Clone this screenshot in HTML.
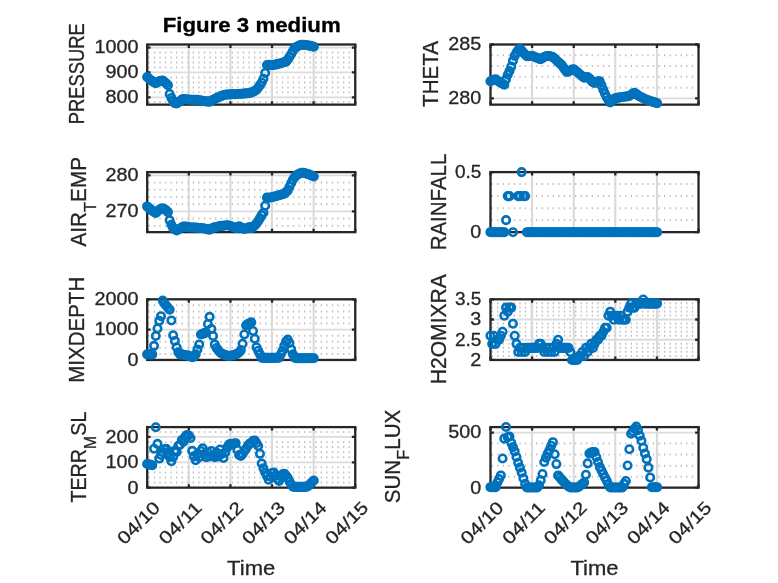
<!DOCTYPE html>
<html><head><meta charset="utf-8"><title>Figure 3 medium</title>
<style>html,body{margin:0;padding:0;background:#fff}svg{display:block}text{font-family:"Liberation Sans", "DejaVu Sans", sans-serif;fill:#262626;stroke:#262626;stroke-width:0.3px}</style></head><body>
<svg width="778" height="583" viewBox="0 0 778 583">
<rect width="778" height="583" fill="#fff"/>
<g>
<line x1="148.25" y1="102.31" x2="355.25" y2="102.31" stroke="#c0c0c0" stroke-width="2" stroke-dasharray="1.3 4.264"/>
<line x1="148.25" y1="92.37" x2="355.25" y2="92.37" stroke="#c0c0c0" stroke-width="2" stroke-dasharray="1.3 4.264"/>
<line x1="148.25" y1="87.39" x2="355.25" y2="87.39" stroke="#c0c0c0" stroke-width="2" stroke-dasharray="1.3 4.264"/>
<line x1="148.25" y1="82.42" x2="355.25" y2="82.42" stroke="#c0c0c0" stroke-width="2" stroke-dasharray="1.3 4.264"/>
<line x1="148.25" y1="77.44" x2="355.25" y2="77.44" stroke="#c0c0c0" stroke-width="2" stroke-dasharray="1.3 4.264"/>
<line x1="148.25" y1="67.50" x2="355.25" y2="67.50" stroke="#c0c0c0" stroke-width="2" stroke-dasharray="1.3 4.264"/>
<line x1="148.25" y1="62.52" x2="355.25" y2="62.52" stroke="#c0c0c0" stroke-width="2" stroke-dasharray="1.3 4.264"/>
<line x1="148.25" y1="57.55" x2="355.25" y2="57.55" stroke="#c0c0c0" stroke-width="2" stroke-dasharray="1.3 4.264"/>
<line x1="148.25" y1="52.57" x2="355.25" y2="52.57" stroke="#c0c0c0" stroke-width="2" stroke-dasharray="1.3 4.264"/>
<line x1="188.81" y1="44.50" x2="188.81" y2="104.65" stroke="#d9d9d9" stroke-width="2"/>
<line x1="230.42" y1="44.50" x2="230.42" y2="104.65" stroke="#d9d9d9" stroke-width="2"/>
<line x1="272.03" y1="44.50" x2="272.03" y2="104.65" stroke="#d9d9d9" stroke-width="2"/>
<line x1="313.64" y1="44.50" x2="313.64" y2="104.65" stroke="#d9d9d9" stroke-width="2"/>
<line x1="147.20" y1="97.34" x2="355.25" y2="97.34" stroke="#dcdcdc" stroke-width="1.8"/>
<line x1="147.20" y1="72.47" x2="355.25" y2="72.47" stroke="#dcdcdc" stroke-width="1.8"/>
<line x1="147.20" y1="47.60" x2="355.25" y2="47.60" stroke="#dcdcdc" stroke-width="1.8"/>
<rect x="147.20" y="44.50" width="208.05" height="60.15" fill="none" stroke="#262626" stroke-width="2.3"/>
<path d="M147.20 104.65v-3.4M147.20 44.50v3.4" stroke="#262626" stroke-width="2.3"/>
<path d="M188.81 104.65v-3.4M188.81 44.50v3.4" stroke="#262626" stroke-width="2.3"/>
<path d="M230.42 104.65v-3.4M230.42 44.50v3.4" stroke="#262626" stroke-width="2.3"/>
<path d="M272.03 104.65v-3.4M272.03 44.50v3.4" stroke="#262626" stroke-width="2.3"/>
<path d="M313.64 104.65v-3.4M313.64 44.50v3.4" stroke="#262626" stroke-width="2.3"/>
<path d="M355.25 104.65v-3.4M355.25 44.50v3.4" stroke="#262626" stroke-width="2.3"/>
<path d="M147.20 97.34h3.4M355.25 97.34h-3.4" stroke="#262626" stroke-width="2.3"/>
<path d="M147.20 72.47h3.4M355.25 72.47h-3.4" stroke="#262626" stroke-width="2.3"/>
<path d="M147.20 47.60h3.4M355.25 47.60h-3.4" stroke="#262626" stroke-width="2.3"/>
<text x="138.60" y="103.19" font-size="17.8" text-anchor="end" textLength="33.0" lengthAdjust="spacingAndGlyphs">800</text>
<text x="138.60" y="78.32" font-size="17.8" text-anchor="end" textLength="33.0" lengthAdjust="spacingAndGlyphs">900</text>
<text x="138.60" y="53.45" font-size="17.8" text-anchor="end" textLength="44.0" lengthAdjust="spacingAndGlyphs">1000</text>
<g fill="none" stroke="#0072bd" stroke-width="2.55"><circle cx="147.10" cy="77.04" r="3.75"/><circle cx="148.84" cy="78.49" r="3.75"/><circle cx="150.57" cy="79.94" r="3.75"/><circle cx="152.31" cy="81.22" r="3.75"/><circle cx="154.05" cy="82.37" r="3.75"/><circle cx="155.78" cy="83.25" r="3.75"/><circle cx="157.52" cy="82.21" r="3.75"/><circle cx="159.26" cy="81.23" r="3.75"/><circle cx="160.99" cy="80.88" r="3.75"/><circle cx="162.73" cy="80.63" r="3.75"/><circle cx="164.47" cy="82.02" r="3.75"/><circle cx="166.20" cy="83.42" r="3.75"/><circle cx="167.94" cy="85.15" r="3.75"/><circle cx="169.67" cy="93.93" r="3.75"/><circle cx="171.41" cy="97.91" r="3.75"/><circle cx="173.15" cy="101.15" r="3.75"/><circle cx="174.88" cy="103.10" r="3.75"/><circle cx="176.62" cy="103.56" r="3.75"/><circle cx="178.36" cy="102.52" r="3.75"/><circle cx="180.09" cy="101.28" r="3.75"/><circle cx="181.83" cy="99.54" r="3.75"/><circle cx="183.57" cy="99.06" r="3.75"/><circle cx="185.30" cy="99.23" r="3.75"/><circle cx="187.04" cy="99.40" r="3.75"/><circle cx="188.78" cy="99.58" r="3.75"/><circle cx="190.51" cy="99.65" r="3.75"/><circle cx="192.25" cy="99.65" r="3.75"/><circle cx="193.99" cy="99.65" r="3.75"/><circle cx="195.72" cy="99.65" r="3.75"/><circle cx="197.46" cy="99.83" r="3.75"/><circle cx="199.19" cy="100.17" r="3.75"/><circle cx="200.93" cy="100.52" r="3.75"/><circle cx="202.67" cy="100.87" r="3.75"/><circle cx="204.40" cy="101.16" r="3.75"/><circle cx="206.14" cy="101.38" r="3.75"/><circle cx="207.88" cy="101.59" r="3.75"/><circle cx="209.61" cy="101.62" r="3.75"/><circle cx="211.35" cy="100.75" r="3.75"/><circle cx="213.09" cy="99.88" r="3.75"/><circle cx="214.82" cy="99.01" r="3.75"/><circle cx="216.56" cy="98.14" r="3.75"/><circle cx="218.30" cy="97.28" r="3.75"/><circle cx="220.03" cy="96.51" r="3.75"/><circle cx="221.77" cy="95.86" r="3.75"/><circle cx="223.51" cy="95.21" r="3.75"/><circle cx="225.24" cy="94.68" r="3.75"/><circle cx="226.98" cy="94.57" r="3.75"/><circle cx="228.72" cy="94.47" r="3.75"/><circle cx="230.45" cy="94.36" r="3.75"/><circle cx="232.19" cy="94.26" r="3.75"/><circle cx="233.93" cy="94.19" r="3.75"/><circle cx="235.66" cy="94.13" r="3.75"/><circle cx="237.40" cy="94.06" r="3.75"/><circle cx="239.13" cy="93.98" r="3.75"/><circle cx="240.87" cy="93.82" r="3.75"/><circle cx="242.61" cy="93.67" r="3.75"/><circle cx="244.34" cy="93.51" r="3.75"/><circle cx="246.08" cy="93.36" r="3.75"/><circle cx="247.82" cy="93.20" r="3.75"/><circle cx="249.55" cy="93.05" r="3.75"/><circle cx="251.29" cy="92.44" r="3.75"/><circle cx="253.03" cy="91.65" r="3.75"/><circle cx="254.76" cy="90.87" r="3.75"/><circle cx="256.50" cy="89.80" r="3.75"/><circle cx="258.24" cy="87.49" r="3.75"/><circle cx="259.97" cy="85.17" r="3.75"/><circle cx="261.71" cy="82.56" r="3.75"/><circle cx="263.45" cy="78.76" r="3.75"/><circle cx="265.18" cy="72.90" r="3.75"/><circle cx="266.92" cy="65.01" r="3.75"/><circle cx="268.65" cy="64.87" r="3.75"/><circle cx="270.39" cy="65.00" r="3.75"/><circle cx="272.13" cy="65.13" r="3.75"/><circle cx="273.86" cy="65.03" r="3.75"/><circle cx="275.60" cy="64.58" r="3.75"/><circle cx="277.34" cy="64.13" r="3.75"/><circle cx="279.07" cy="63.68" r="3.75"/><circle cx="280.81" cy="63.22" r="3.75"/><circle cx="282.55" cy="62.73" r="3.75"/><circle cx="284.28" cy="62.23" r="3.75"/><circle cx="286.02" cy="61.74" r="3.75"/><circle cx="287.76" cy="59.47" r="3.75"/><circle cx="289.49" cy="56.84" r="3.75"/><circle cx="291.23" cy="53.95" r="3.75"/><circle cx="292.97" cy="50.95" r="3.75"/><circle cx="294.70" cy="47.91" r="3.75"/><circle cx="296.44" cy="46.93" r="3.75"/><circle cx="298.18" cy="46.07" r="3.75"/><circle cx="299.91" cy="45.32" r="3.75"/><circle cx="301.65" cy="44.89" r="3.75"/><circle cx="303.38" cy="44.78" r="3.75"/><circle cx="305.12" cy="45.00" r="3.75"/><circle cx="306.86" cy="45.22" r="3.75"/><circle cx="308.59" cy="45.43" r="3.75"/><circle cx="310.33" cy="45.84" r="3.75"/><circle cx="312.07" cy="46.26" r="3.75"/><circle cx="313.80" cy="46.68" r="3.75"/></g>
</g>
<g>
<line x1="491.55" y1="87.66" x2="698.55" y2="87.66" stroke="#c0c0c0" stroke-width="2" stroke-dasharray="1.3 4.264"/>
<line x1="491.55" y1="76.87" x2="698.55" y2="76.87" stroke="#c0c0c0" stroke-width="2" stroke-dasharray="1.3 4.264"/>
<line x1="491.55" y1="66.08" x2="698.55" y2="66.08" stroke="#c0c0c0" stroke-width="2" stroke-dasharray="1.3 4.264"/>
<line x1="491.55" y1="55.29" x2="698.55" y2="55.29" stroke="#c0c0c0" stroke-width="2" stroke-dasharray="1.3 4.264"/>
<line x1="532.11" y1="44.50" x2="532.11" y2="104.65" stroke="#d9d9d9" stroke-width="2"/>
<line x1="573.72" y1="44.50" x2="573.72" y2="104.65" stroke="#d9d9d9" stroke-width="2"/>
<line x1="615.33" y1="44.50" x2="615.33" y2="104.65" stroke="#d9d9d9" stroke-width="2"/>
<line x1="656.94" y1="44.50" x2="656.94" y2="104.65" stroke="#d9d9d9" stroke-width="2"/>
<line x1="490.50" y1="98.45" x2="698.55" y2="98.45" stroke="#dcdcdc" stroke-width="1.8"/>
<rect x="490.50" y="44.50" width="208.05" height="60.15" fill="none" stroke="#262626" stroke-width="2.3"/>
<path d="M490.50 104.65v-3.4M490.50 44.50v3.4" stroke="#262626" stroke-width="2.3"/>
<path d="M532.11 104.65v-3.4M532.11 44.50v3.4" stroke="#262626" stroke-width="2.3"/>
<path d="M573.72 104.65v-3.4M573.72 44.50v3.4" stroke="#262626" stroke-width="2.3"/>
<path d="M615.33 104.65v-3.4M615.33 44.50v3.4" stroke="#262626" stroke-width="2.3"/>
<path d="M656.94 104.65v-3.4M656.94 44.50v3.4" stroke="#262626" stroke-width="2.3"/>
<path d="M698.55 104.65v-3.4M698.55 44.50v3.4" stroke="#262626" stroke-width="2.3"/>
<path d="M490.50 98.45h3.4M698.55 98.45h-3.4" stroke="#262626" stroke-width="2.3"/>
<path d="M490.50 44.50h3.4M698.55 44.50h-3.4" stroke="#262626" stroke-width="2.3"/>
<text x="481.30" y="104.30" font-size="17.8" text-anchor="end" textLength="33.0" lengthAdjust="spacingAndGlyphs">280</text>
<text x="481.30" y="50.35" font-size="17.8" text-anchor="end" textLength="33.0" lengthAdjust="spacingAndGlyphs">285</text>
<g fill="none" stroke="#0072bd" stroke-width="2.55"><circle cx="490.40" cy="81.25" r="3.75"/><circle cx="492.14" cy="80.50" r="3.75"/><circle cx="493.87" cy="79.76" r="3.75"/><circle cx="495.61" cy="79.34" r="3.75"/><circle cx="497.35" cy="80.49" r="3.75"/><circle cx="499.08" cy="81.65" r="3.75"/><circle cx="500.82" cy="82.69" r="3.75"/><circle cx="502.56" cy="83.68" r="3.75"/><circle cx="504.29" cy="84.67" r="3.75"/><circle cx="506.03" cy="79.23" r="3.75"/><circle cx="507.76" cy="74.75" r="3.75"/><circle cx="509.50" cy="71.03" r="3.75"/><circle cx="511.24" cy="66.61" r="3.75"/><circle cx="512.97" cy="60.82" r="3.75"/><circle cx="514.71" cy="55.91" r="3.75"/><circle cx="516.45" cy="52.43" r="3.75"/><circle cx="518.18" cy="50.14" r="3.75"/><circle cx="519.92" cy="48.84" r="3.75"/><circle cx="521.66" cy="50.64" r="3.75"/><circle cx="523.39" cy="52.72" r="3.75"/><circle cx="525.13" cy="54.50" r="3.75"/><circle cx="526.87" cy="56.24" r="3.75"/><circle cx="528.60" cy="56.30" r="3.75"/><circle cx="530.34" cy="56.05" r="3.75"/><circle cx="532.08" cy="55.80" r="3.75"/><circle cx="533.81" cy="56.54" r="3.75"/><circle cx="535.55" cy="57.28" r="3.75"/><circle cx="537.29" cy="58.02" r="3.75"/><circle cx="539.02" cy="58.72" r="3.75"/><circle cx="540.76" cy="59.22" r="3.75"/><circle cx="542.50" cy="58.06" r="3.75"/><circle cx="544.23" cy="56.90" r="3.75"/><circle cx="545.97" cy="56.32" r="3.75"/><circle cx="547.70" cy="56.03" r="3.75"/><circle cx="549.44" cy="55.93" r="3.75"/><circle cx="551.18" cy="56.51" r="3.75"/><circle cx="552.91" cy="57.09" r="3.75"/><circle cx="554.65" cy="58.56" r="3.75"/><circle cx="556.39" cy="60.30" r="3.75"/><circle cx="558.12" cy="61.94" r="3.75"/><circle cx="559.86" cy="63.38" r="3.75"/><circle cx="561.60" cy="64.83" r="3.75"/><circle cx="563.33" cy="67.20" r="3.75"/><circle cx="565.07" cy="69.68" r="3.75"/><circle cx="566.81" cy="72.05" r="3.75"/><circle cx="568.54" cy="71.47" r="3.75"/><circle cx="570.28" cy="70.51" r="3.75"/><circle cx="572.02" cy="69.47" r="3.75"/><circle cx="573.75" cy="69.31" r="3.75"/><circle cx="575.49" cy="70.64" r="3.75"/><circle cx="577.23" cy="71.97" r="3.75"/><circle cx="578.96" cy="73.48" r="3.75"/><circle cx="580.70" cy="75.00" r="3.75"/><circle cx="582.43" cy="76.51" r="3.75"/><circle cx="584.17" cy="77.67" r="3.75"/><circle cx="585.91" cy="77.30" r="3.75"/><circle cx="587.64" cy="77.02" r="3.75"/><circle cx="589.38" cy="78.41" r="3.75"/><circle cx="591.12" cy="80.36" r="3.75"/><circle cx="592.85" cy="82.32" r="3.75"/><circle cx="594.59" cy="82.99" r="3.75"/><circle cx="596.33" cy="82.12" r="3.75"/><circle cx="598.06" cy="81.25" r="3.75"/><circle cx="599.80" cy="81.35" r="3.75"/><circle cx="601.54" cy="85.40" r="3.75"/><circle cx="603.27" cy="89.73" r="3.75"/><circle cx="605.01" cy="93.77" r="3.75"/><circle cx="606.75" cy="97.25" r="3.75"/><circle cx="608.48" cy="100.10" r="3.75"/><circle cx="610.22" cy="102.35" r="3.75"/><circle cx="611.95" cy="100.86" r="3.75"/><circle cx="613.69" cy="99.37" r="3.75"/><circle cx="615.43" cy="98.17" r="3.75"/><circle cx="617.16" cy="97.89" r="3.75"/><circle cx="618.90" cy="97.61" r="3.75"/><circle cx="620.64" cy="97.34" r="3.75"/><circle cx="622.37" cy="97.06" r="3.75"/><circle cx="624.11" cy="96.82" r="3.75"/><circle cx="625.85" cy="96.58" r="3.75"/><circle cx="627.58" cy="96.33" r="3.75"/><circle cx="629.32" cy="96.00" r="3.75"/><circle cx="631.06" cy="94.76" r="3.75"/><circle cx="632.79" cy="93.52" r="3.75"/><circle cx="634.53" cy="92.87" r="3.75"/><circle cx="636.27" cy="94.11" r="3.75"/><circle cx="638.00" cy="95.36" r="3.75"/><circle cx="639.74" cy="96.45" r="3.75"/><circle cx="641.48" cy="97.32" r="3.75"/><circle cx="643.21" cy="98.19" r="3.75"/><circle cx="644.95" cy="99.03" r="3.75"/><circle cx="646.68" cy="99.68" r="3.75"/><circle cx="648.42" cy="100.33" r="3.75"/><circle cx="650.16" cy="100.98" r="3.75"/><circle cx="651.89" cy="101.54" r="3.75"/><circle cx="653.63" cy="102.08" r="3.75"/><circle cx="655.37" cy="102.62" r="3.75"/><circle cx="657.10" cy="103.17" r="3.75"/></g>
</g>
<g>
<line x1="148.25" y1="225.84" x2="355.25" y2="225.84" stroke="#c0c0c0" stroke-width="2" stroke-dasharray="1.3 4.264"/>
<line x1="148.25" y1="218.62" x2="355.25" y2="218.62" stroke="#c0c0c0" stroke-width="2" stroke-dasharray="1.3 4.264"/>
<line x1="148.25" y1="204.18" x2="355.25" y2="204.18" stroke="#c0c0c0" stroke-width="2" stroke-dasharray="1.3 4.264"/>
<line x1="148.25" y1="196.96" x2="355.25" y2="196.96" stroke="#c0c0c0" stroke-width="2" stroke-dasharray="1.3 4.264"/>
<line x1="148.25" y1="189.74" x2="355.25" y2="189.74" stroke="#c0c0c0" stroke-width="2" stroke-dasharray="1.3 4.264"/>
<line x1="148.25" y1="182.52" x2="355.25" y2="182.52" stroke="#c0c0c0" stroke-width="2" stroke-dasharray="1.3 4.264"/>
<line x1="188.81" y1="172.10" x2="188.81" y2="232.15" stroke="#d9d9d9" stroke-width="2"/>
<line x1="230.42" y1="172.10" x2="230.42" y2="232.15" stroke="#d9d9d9" stroke-width="2"/>
<line x1="272.03" y1="172.10" x2="272.03" y2="232.15" stroke="#d9d9d9" stroke-width="2"/>
<line x1="313.64" y1="172.10" x2="313.64" y2="232.15" stroke="#d9d9d9" stroke-width="2"/>
<line x1="147.20" y1="211.40" x2="355.25" y2="211.40" stroke="#dcdcdc" stroke-width="1.8"/>
<line x1="147.20" y1="175.30" x2="355.25" y2="175.30" stroke="#dcdcdc" stroke-width="1.8"/>
<rect x="147.20" y="172.10" width="208.05" height="60.05" fill="none" stroke="#262626" stroke-width="2.3"/>
<path d="M147.20 232.15v-3.4M147.20 172.10v3.4" stroke="#262626" stroke-width="2.3"/>
<path d="M188.81 232.15v-3.4M188.81 172.10v3.4" stroke="#262626" stroke-width="2.3"/>
<path d="M230.42 232.15v-3.4M230.42 172.10v3.4" stroke="#262626" stroke-width="2.3"/>
<path d="M272.03 232.15v-3.4M272.03 172.10v3.4" stroke="#262626" stroke-width="2.3"/>
<path d="M313.64 232.15v-3.4M313.64 172.10v3.4" stroke="#262626" stroke-width="2.3"/>
<path d="M355.25 232.15v-3.4M355.25 172.10v3.4" stroke="#262626" stroke-width="2.3"/>
<path d="M147.20 211.40h3.4M355.25 211.40h-3.4" stroke="#262626" stroke-width="2.3"/>
<path d="M147.20 175.30h3.4M355.25 175.30h-3.4" stroke="#262626" stroke-width="2.3"/>
<text x="138.60" y="217.25" font-size="17.8" text-anchor="end" textLength="33.0" lengthAdjust="spacingAndGlyphs">270</text>
<text x="138.60" y="181.15" font-size="17.8" text-anchor="end" textLength="33.0" lengthAdjust="spacingAndGlyphs">280</text>
<g fill="none" stroke="#0072bd" stroke-width="2.55"><circle cx="147.10" cy="206.41" r="3.75"/><circle cx="148.84" cy="207.88" r="3.75"/><circle cx="150.57" cy="209.34" r="3.75"/><circle cx="152.31" cy="210.73" r="3.75"/><circle cx="154.05" cy="212.06" r="3.75"/><circle cx="155.78" cy="213.01" r="3.75"/><circle cx="157.52" cy="211.39" r="3.75"/><circle cx="159.26" cy="209.77" r="3.75"/><circle cx="160.99" cy="208.79" r="3.75"/><circle cx="162.73" cy="208.19" r="3.75"/><circle cx="164.47" cy="209.23" r="3.75"/><circle cx="166.20" cy="210.27" r="3.75"/><circle cx="167.94" cy="212.09" r="3.75"/><circle cx="169.67" cy="220.29" r="3.75"/><circle cx="171.41" cy="224.70" r="3.75"/><circle cx="173.15" cy="228.17" r="3.75"/><circle cx="174.88" cy="229.34" r="3.75"/><circle cx="176.62" cy="230.39" r="3.75"/><circle cx="178.36" cy="229.53" r="3.75"/><circle cx="180.09" cy="228.49" r="3.75"/><circle cx="181.83" cy="227.45" r="3.75"/><circle cx="183.57" cy="226.40" r="3.75"/><circle cx="185.30" cy="226.53" r="3.75"/><circle cx="187.04" cy="226.87" r="3.75"/><circle cx="188.78" cy="227.22" r="3.75"/><circle cx="190.51" cy="227.41" r="3.75"/><circle cx="192.25" cy="227.48" r="3.75"/><circle cx="193.99" cy="227.55" r="3.75"/><circle cx="195.72" cy="227.62" r="3.75"/><circle cx="197.46" cy="227.74" r="3.75"/><circle cx="199.19" cy="227.91" r="3.75"/><circle cx="200.93" cy="228.08" r="3.75"/><circle cx="202.67" cy="228.26" r="3.75"/><circle cx="204.40" cy="228.55" r="3.75"/><circle cx="206.14" cy="228.98" r="3.75"/><circle cx="207.88" cy="229.41" r="3.75"/><circle cx="209.61" cy="229.62" r="3.75"/><circle cx="211.35" cy="228.75" r="3.75"/><circle cx="213.09" cy="227.88" r="3.75"/><circle cx="214.82" cy="227.33" r="3.75"/><circle cx="216.56" cy="226.90" r="3.75"/><circle cx="218.30" cy="226.46" r="3.75"/><circle cx="220.03" cy="226.12" r="3.75"/><circle cx="221.77" cy="225.89" r="3.75"/><circle cx="223.51" cy="225.66" r="3.75"/><circle cx="225.24" cy="225.43" r="3.75"/><circle cx="226.98" cy="225.20" r="3.75"/><circle cx="228.72" cy="225.46" r="3.75"/><circle cx="230.45" cy="226.06" r="3.75"/><circle cx="232.19" cy="226.66" r="3.75"/><circle cx="233.93" cy="227.26" r="3.75"/><circle cx="235.66" cy="227.87" r="3.75"/><circle cx="237.40" cy="228.00" r="3.75"/><circle cx="239.13" cy="226.30" r="3.75"/><circle cx="240.87" cy="227.26" r="3.75"/><circle cx="242.61" cy="228.22" r="3.75"/><circle cx="244.34" cy="228.99" r="3.75"/><circle cx="246.08" cy="228.37" r="3.75"/><circle cx="247.82" cy="227.74" r="3.75"/><circle cx="249.55" cy="227.12" r="3.75"/><circle cx="251.29" cy="228.30" r="3.75"/><circle cx="253.03" cy="226.85" r="3.75"/><circle cx="254.76" cy="225.40" r="3.75"/><circle cx="256.50" cy="223.36" r="3.75"/><circle cx="258.24" cy="220.93" r="3.75"/><circle cx="259.97" cy="218.16" r="3.75"/><circle cx="261.71" cy="215.12" r="3.75"/><circle cx="263.45" cy="212.76" r="3.75"/><circle cx="265.18" cy="205.79" r="3.75"/><circle cx="266.92" cy="197.60" r="3.75"/><circle cx="268.65" cy="197.78" r="3.75"/><circle cx="270.39" cy="197.53" r="3.75"/><circle cx="272.13" cy="197.28" r="3.75"/><circle cx="273.86" cy="196.81" r="3.75"/><circle cx="275.60" cy="196.29" r="3.75"/><circle cx="277.34" cy="195.77" r="3.75"/><circle cx="279.07" cy="195.25" r="3.75"/><circle cx="280.81" cy="194.74" r="3.75"/><circle cx="282.55" cy="194.25" r="3.75"/><circle cx="284.28" cy="193.75" r="3.75"/><circle cx="286.02" cy="192.14" r="3.75"/><circle cx="287.76" cy="190.40" r="3.75"/><circle cx="289.49" cy="186.79" r="3.75"/><circle cx="291.23" cy="182.98" r="3.75"/><circle cx="292.97" cy="179.51" r="3.75"/><circle cx="294.70" cy="177.09" r="3.75"/><circle cx="296.44" cy="175.35" r="3.75"/><circle cx="298.18" cy="174.18" r="3.75"/><circle cx="299.91" cy="173.44" r="3.75"/><circle cx="301.65" cy="172.70" r="3.75"/><circle cx="303.38" cy="172.80" r="3.75"/><circle cx="305.12" cy="173.23" r="3.75"/><circle cx="306.86" cy="173.67" r="3.75"/><circle cx="308.59" cy="174.24" r="3.75"/><circle cx="310.33" cy="174.99" r="3.75"/><circle cx="312.07" cy="175.73" r="3.75"/><circle cx="313.80" cy="176.45" r="3.75"/></g>
</g>
<g>
<line x1="491.55" y1="220.14" x2="698.55" y2="220.14" stroke="#c0c0c0" stroke-width="2" stroke-dasharray="1.3 4.264"/>
<line x1="491.55" y1="208.13" x2="698.55" y2="208.13" stroke="#c0c0c0" stroke-width="2" stroke-dasharray="1.3 4.264"/>
<line x1="491.55" y1="196.12" x2="698.55" y2="196.12" stroke="#c0c0c0" stroke-width="2" stroke-dasharray="1.3 4.264"/>
<line x1="491.55" y1="184.11" x2="698.55" y2="184.11" stroke="#c0c0c0" stroke-width="2" stroke-dasharray="1.3 4.264"/>
<line x1="532.11" y1="172.10" x2="532.11" y2="232.15" stroke="#d9d9d9" stroke-width="2"/>
<line x1="573.72" y1="172.10" x2="573.72" y2="232.15" stroke="#d9d9d9" stroke-width="2"/>
<line x1="615.33" y1="172.10" x2="615.33" y2="232.15" stroke="#d9d9d9" stroke-width="2"/>
<line x1="656.94" y1="172.10" x2="656.94" y2="232.15" stroke="#d9d9d9" stroke-width="2"/>
<rect x="490.50" y="172.10" width="208.05" height="60.05" fill="none" stroke="#262626" stroke-width="2.3"/>
<path d="M490.50 232.15v-3.4M490.50 172.10v3.4" stroke="#262626" stroke-width="2.3"/>
<path d="M532.11 232.15v-3.4M532.11 172.10v3.4" stroke="#262626" stroke-width="2.3"/>
<path d="M573.72 232.15v-3.4M573.72 172.10v3.4" stroke="#262626" stroke-width="2.3"/>
<path d="M615.33 232.15v-3.4M615.33 172.10v3.4" stroke="#262626" stroke-width="2.3"/>
<path d="M656.94 232.15v-3.4M656.94 172.10v3.4" stroke="#262626" stroke-width="2.3"/>
<path d="M698.55 232.15v-3.4M698.55 172.10v3.4" stroke="#262626" stroke-width="2.3"/>
<path d="M490.50 232.15h3.4M698.55 232.15h-3.4" stroke="#262626" stroke-width="2.3"/>
<path d="M490.50 172.10h3.4M698.55 172.10h-3.4" stroke="#262626" stroke-width="2.3"/>
<text x="481.30" y="238.00" font-size="17.8" text-anchor="end" textLength="11.0" lengthAdjust="spacingAndGlyphs">0</text>
<text x="481.30" y="177.95" font-size="17.8" text-anchor="end" textLength="26.4" lengthAdjust="spacingAndGlyphs">0.5</text>
<g fill="none" stroke="#0072bd" stroke-width="2.55"><circle cx="490.40" cy="232.15" r="3.75"/><circle cx="492.14" cy="232.15" r="3.75"/><circle cx="493.87" cy="232.15" r="3.75"/><circle cx="495.61" cy="232.15" r="3.75"/><circle cx="497.35" cy="232.15" r="3.75"/><circle cx="499.08" cy="232.15" r="3.75"/><circle cx="500.82" cy="232.15" r="3.75"/><circle cx="502.56" cy="232.15" r="3.75"/><circle cx="504.29" cy="232.15" r="3.75"/><circle cx="506.03" cy="220.14" r="3.75"/><circle cx="507.76" cy="196.12" r="3.75"/><circle cx="509.50" cy="196.12" r="3.75"/><circle cx="512.97" cy="232.15" r="3.75"/><circle cx="518.18" cy="196.12" r="3.75"/><circle cx="519.92" cy="196.12" r="3.75"/><circle cx="521.66" cy="172.10" r="3.75"/><circle cx="523.39" cy="196.12" r="3.75"/><circle cx="525.13" cy="196.12" r="3.75"/><circle cx="526.87" cy="232.15" r="3.75"/><circle cx="528.60" cy="232.15" r="3.75"/><circle cx="530.34" cy="232.15" r="3.75"/><circle cx="532.08" cy="232.15" r="3.75"/><circle cx="533.81" cy="232.15" r="3.75"/><circle cx="535.55" cy="232.15" r="3.75"/><circle cx="537.29" cy="232.15" r="3.75"/><circle cx="539.02" cy="232.15" r="3.75"/><circle cx="540.76" cy="232.15" r="3.75"/><circle cx="542.50" cy="232.15" r="3.75"/><circle cx="544.23" cy="232.15" r="3.75"/><circle cx="545.97" cy="232.15" r="3.75"/><circle cx="547.70" cy="232.15" r="3.75"/><circle cx="549.44" cy="232.15" r="3.75"/><circle cx="551.18" cy="232.15" r="3.75"/><circle cx="552.91" cy="232.15" r="3.75"/><circle cx="554.65" cy="232.15" r="3.75"/><circle cx="556.39" cy="232.15" r="3.75"/><circle cx="558.12" cy="232.15" r="3.75"/><circle cx="559.86" cy="232.15" r="3.75"/><circle cx="561.60" cy="232.15" r="3.75"/><circle cx="563.33" cy="232.15" r="3.75"/><circle cx="565.07" cy="232.15" r="3.75"/><circle cx="566.81" cy="232.15" r="3.75"/><circle cx="568.54" cy="232.15" r="3.75"/><circle cx="570.28" cy="232.15" r="3.75"/><circle cx="572.02" cy="232.15" r="3.75"/><circle cx="573.75" cy="232.15" r="3.75"/><circle cx="575.49" cy="232.15" r="3.75"/><circle cx="577.23" cy="232.15" r="3.75"/><circle cx="578.96" cy="232.15" r="3.75"/><circle cx="580.70" cy="232.15" r="3.75"/><circle cx="582.43" cy="232.15" r="3.75"/><circle cx="584.17" cy="232.15" r="3.75"/><circle cx="585.91" cy="232.15" r="3.75"/><circle cx="587.64" cy="232.15" r="3.75"/><circle cx="589.38" cy="232.15" r="3.75"/><circle cx="591.12" cy="232.15" r="3.75"/><circle cx="592.85" cy="232.15" r="3.75"/><circle cx="594.59" cy="232.15" r="3.75"/><circle cx="596.33" cy="232.15" r="3.75"/><circle cx="598.06" cy="232.15" r="3.75"/><circle cx="599.80" cy="232.15" r="3.75"/><circle cx="601.54" cy="232.15" r="3.75"/><circle cx="603.27" cy="232.15" r="3.75"/><circle cx="605.01" cy="232.15" r="3.75"/><circle cx="606.75" cy="232.15" r="3.75"/><circle cx="608.48" cy="232.15" r="3.75"/><circle cx="610.22" cy="232.15" r="3.75"/><circle cx="611.95" cy="232.15" r="3.75"/><circle cx="613.69" cy="232.15" r="3.75"/><circle cx="615.43" cy="232.15" r="3.75"/><circle cx="617.16" cy="232.15" r="3.75"/><circle cx="618.90" cy="232.15" r="3.75"/><circle cx="620.64" cy="232.15" r="3.75"/><circle cx="622.37" cy="232.15" r="3.75"/><circle cx="624.11" cy="232.15" r="3.75"/><circle cx="625.85" cy="232.15" r="3.75"/><circle cx="627.58" cy="232.15" r="3.75"/><circle cx="629.32" cy="232.15" r="3.75"/><circle cx="631.06" cy="232.15" r="3.75"/><circle cx="632.79" cy="232.15" r="3.75"/><circle cx="634.53" cy="232.15" r="3.75"/><circle cx="636.27" cy="232.15" r="3.75"/><circle cx="638.00" cy="232.15" r="3.75"/><circle cx="639.74" cy="232.15" r="3.75"/><circle cx="641.48" cy="232.15" r="3.75"/><circle cx="643.21" cy="232.15" r="3.75"/><circle cx="644.95" cy="232.15" r="3.75"/><circle cx="646.68" cy="232.15" r="3.75"/><circle cx="648.42" cy="232.15" r="3.75"/><circle cx="650.16" cy="232.15" r="3.75"/><circle cx="651.89" cy="232.15" r="3.75"/><circle cx="653.63" cy="232.15" r="3.75"/><circle cx="655.37" cy="232.15" r="3.75"/><circle cx="657.10" cy="232.15" r="3.75"/></g>
</g>
<g>
<line x1="148.25" y1="353.88" x2="355.25" y2="353.88" stroke="#c0c0c0" stroke-width="2" stroke-dasharray="1.3 4.264"/>
<line x1="148.25" y1="347.82" x2="355.25" y2="347.82" stroke="#c0c0c0" stroke-width="2" stroke-dasharray="1.3 4.264"/>
<line x1="148.25" y1="341.75" x2="355.25" y2="341.75" stroke="#c0c0c0" stroke-width="2" stroke-dasharray="1.3 4.264"/>
<line x1="148.25" y1="335.69" x2="355.25" y2="335.69" stroke="#c0c0c0" stroke-width="2" stroke-dasharray="1.3 4.264"/>
<line x1="148.25" y1="323.56" x2="355.25" y2="323.56" stroke="#c0c0c0" stroke-width="2" stroke-dasharray="1.3 4.264"/>
<line x1="148.25" y1="317.50" x2="355.25" y2="317.50" stroke="#c0c0c0" stroke-width="2" stroke-dasharray="1.3 4.264"/>
<line x1="148.25" y1="311.43" x2="355.25" y2="311.43" stroke="#c0c0c0" stroke-width="2" stroke-dasharray="1.3 4.264"/>
<line x1="148.25" y1="305.37" x2="355.25" y2="305.37" stroke="#c0c0c0" stroke-width="2" stroke-dasharray="1.3 4.264"/>
<line x1="188.81" y1="299.30" x2="188.81" y2="359.95" stroke="#d9d9d9" stroke-width="2"/>
<line x1="230.42" y1="299.30" x2="230.42" y2="359.95" stroke="#d9d9d9" stroke-width="2"/>
<line x1="272.03" y1="299.30" x2="272.03" y2="359.95" stroke="#d9d9d9" stroke-width="2"/>
<line x1="313.64" y1="299.30" x2="313.64" y2="359.95" stroke="#d9d9d9" stroke-width="2"/>
<line x1="147.20" y1="329.62" x2="355.25" y2="329.62" stroke="#dcdcdc" stroke-width="1.8"/>
<rect x="147.20" y="299.30" width="208.05" height="60.65" fill="none" stroke="#262626" stroke-width="2.3"/>
<path d="M147.20 359.95v-3.4M147.20 299.30v3.4" stroke="#262626" stroke-width="2.3"/>
<path d="M188.81 359.95v-3.4M188.81 299.30v3.4" stroke="#262626" stroke-width="2.3"/>
<path d="M230.42 359.95v-3.4M230.42 299.30v3.4" stroke="#262626" stroke-width="2.3"/>
<path d="M272.03 359.95v-3.4M272.03 299.30v3.4" stroke="#262626" stroke-width="2.3"/>
<path d="M313.64 359.95v-3.4M313.64 299.30v3.4" stroke="#262626" stroke-width="2.3"/>
<path d="M355.25 359.95v-3.4M355.25 299.30v3.4" stroke="#262626" stroke-width="2.3"/>
<path d="M147.20 359.95h3.4M355.25 359.95h-3.4" stroke="#262626" stroke-width="2.3"/>
<path d="M147.20 329.62h3.4M355.25 329.62h-3.4" stroke="#262626" stroke-width="2.3"/>
<path d="M147.20 299.30h3.4M355.25 299.30h-3.4" stroke="#262626" stroke-width="2.3"/>
<text x="138.60" y="365.80" font-size="17.8" text-anchor="end" textLength="11.0" lengthAdjust="spacingAndGlyphs">0</text>
<text x="138.60" y="335.48" font-size="17.8" text-anchor="end" textLength="44.0" lengthAdjust="spacingAndGlyphs">1000</text>
<text x="138.60" y="305.15" font-size="17.8" text-anchor="end" textLength="44.0" lengthAdjust="spacingAndGlyphs">2000</text>
<g fill="none" stroke="#0072bd" stroke-width="2.55"><circle cx="147.10" cy="354.36" r="3.75"/><circle cx="148.84" cy="354.36" r="3.75"/><circle cx="150.57" cy="354.36" r="3.75"/><circle cx="152.31" cy="354.36" r="3.75"/><circle cx="154.05" cy="345.87" r="3.75"/><circle cx="155.78" cy="335.97" r="3.75"/><circle cx="157.52" cy="328.47" r="3.75"/><circle cx="159.26" cy="320.83" r="3.75"/><circle cx="160.99" cy="316.17" r="3.75"/><circle cx="162.73" cy="300.61" r="3.75"/><circle cx="164.47" cy="303.44" r="3.75"/><circle cx="166.20" cy="305.56" r="3.75"/><circle cx="167.94" cy="307.68" r="3.75"/><circle cx="169.67" cy="309.80" r="3.75"/><circle cx="171.41" cy="320.41" r="3.75"/><circle cx="173.15" cy="335.26" r="3.75"/><circle cx="174.88" cy="340.92" r="3.75"/><circle cx="176.62" cy="347.28" r="3.75"/><circle cx="178.36" cy="352.23" r="3.75"/><circle cx="180.09" cy="354.36" r="3.75"/><circle cx="181.83" cy="354.36" r="3.75"/><circle cx="183.57" cy="354.78" r="3.75"/><circle cx="185.30" cy="355.06" r="3.75"/><circle cx="187.04" cy="355.35" r="3.75"/><circle cx="188.78" cy="355.77" r="3.75"/><circle cx="190.51" cy="356.48" r="3.75"/><circle cx="192.25" cy="357.19" r="3.75"/><circle cx="193.99" cy="356.48" r="3.75"/><circle cx="195.72" cy="354.36" r="3.75"/><circle cx="197.46" cy="349.41" r="3.75"/><circle cx="199.19" cy="344.46" r="3.75"/><circle cx="200.93" cy="334.55" r="3.75"/><circle cx="202.67" cy="333.85" r="3.75"/><circle cx="204.40" cy="333.14" r="3.75"/><circle cx="206.14" cy="332.43" r="3.75"/><circle cx="207.88" cy="323.95" r="3.75"/><circle cx="209.61" cy="316.87" r="3.75"/><circle cx="211.35" cy="328.90" r="3.75"/><circle cx="213.09" cy="335.97" r="3.75"/><circle cx="214.82" cy="344.46" r="3.75"/><circle cx="216.56" cy="347.99" r="3.75"/><circle cx="218.30" cy="350.11" r="3.75"/><circle cx="220.03" cy="352.23" r="3.75"/><circle cx="221.77" cy="353.65" r="3.75"/><circle cx="223.51" cy="354.36" r="3.75"/><circle cx="225.24" cy="355.06" r="3.75"/><circle cx="226.98" cy="355.77" r="3.75"/><circle cx="228.72" cy="355.77" r="3.75"/><circle cx="230.45" cy="355.77" r="3.75"/><circle cx="232.19" cy="355.49" r="3.75"/><circle cx="233.93" cy="355.06" r="3.75"/><circle cx="235.66" cy="354.36" r="3.75"/><circle cx="237.40" cy="353.65" r="3.75"/><circle cx="239.13" cy="352.23" r="3.75"/><circle cx="240.87" cy="350.11" r="3.75"/><circle cx="242.61" cy="343.75" r="3.75"/><circle cx="244.34" cy="334.55" r="3.75"/><circle cx="246.08" cy="325.36" r="3.75"/><circle cx="247.82" cy="323.95" r="3.75"/><circle cx="249.55" cy="323.24" r="3.75"/><circle cx="251.29" cy="322.25" r="3.75"/><circle cx="253.03" cy="331.02" r="3.75"/><circle cx="254.76" cy="338.80" r="3.75"/><circle cx="256.50" cy="347.28" r="3.75"/><circle cx="258.24" cy="350.82" r="3.75"/><circle cx="259.97" cy="354.36" r="3.75"/><circle cx="261.71" cy="357.61" r="3.75"/><circle cx="263.45" cy="357.89" r="3.75"/><circle cx="265.18" cy="357.89" r="3.75"/><circle cx="266.92" cy="357.89" r="3.75"/><circle cx="268.65" cy="357.89" r="3.75"/><circle cx="270.39" cy="357.89" r="3.75"/><circle cx="272.13" cy="357.89" r="3.75"/><circle cx="273.86" cy="357.89" r="3.75"/><circle cx="275.60" cy="357.89" r="3.75"/><circle cx="277.34" cy="357.89" r="3.75"/><circle cx="279.07" cy="357.61" r="3.75"/><circle cx="280.81" cy="354.36" r="3.75"/><circle cx="282.55" cy="350.82" r="3.75"/><circle cx="284.28" cy="345.87" r="3.75"/><circle cx="286.02" cy="341.63" r="3.75"/><circle cx="287.76" cy="339.50" r="3.75"/><circle cx="289.49" cy="343.04" r="3.75"/><circle cx="291.23" cy="349.41" r="3.75"/><circle cx="292.97" cy="354.36" r="3.75"/><circle cx="294.70" cy="357.61" r="3.75"/><circle cx="296.44" cy="358.32" r="3.75"/><circle cx="298.18" cy="358.32" r="3.75"/><circle cx="299.91" cy="358.32" r="3.75"/><circle cx="301.65" cy="358.32" r="3.75"/><circle cx="303.38" cy="358.32" r="3.75"/><circle cx="305.12" cy="358.32" r="3.75"/><circle cx="306.86" cy="358.32" r="3.75"/><circle cx="308.59" cy="358.32" r="3.75"/><circle cx="310.33" cy="358.32" r="3.75"/><circle cx="312.07" cy="358.32" r="3.75"/><circle cx="313.80" cy="358.32" r="3.75"/></g>
</g>
<g>
<line x1="491.55" y1="355.91" x2="698.55" y2="355.91" stroke="#c0c0c0" stroke-width="2" stroke-dasharray="1.3 4.264"/>
<line x1="491.55" y1="351.86" x2="698.55" y2="351.86" stroke="#c0c0c0" stroke-width="2" stroke-dasharray="1.3 4.264"/>
<line x1="491.55" y1="347.82" x2="698.55" y2="347.82" stroke="#c0c0c0" stroke-width="2" stroke-dasharray="1.3 4.264"/>
<line x1="491.55" y1="343.78" x2="698.55" y2="343.78" stroke="#c0c0c0" stroke-width="2" stroke-dasharray="1.3 4.264"/>
<line x1="491.55" y1="335.69" x2="698.55" y2="335.69" stroke="#c0c0c0" stroke-width="2" stroke-dasharray="1.3 4.264"/>
<line x1="491.55" y1="331.65" x2="698.55" y2="331.65" stroke="#c0c0c0" stroke-width="2" stroke-dasharray="1.3 4.264"/>
<line x1="491.55" y1="327.61" x2="698.55" y2="327.61" stroke="#c0c0c0" stroke-width="2" stroke-dasharray="1.3 4.264"/>
<line x1="491.55" y1="323.56" x2="698.55" y2="323.56" stroke="#c0c0c0" stroke-width="2" stroke-dasharray="1.3 4.264"/>
<line x1="491.55" y1="315.48" x2="698.55" y2="315.48" stroke="#c0c0c0" stroke-width="2" stroke-dasharray="1.3 4.264"/>
<line x1="491.55" y1="311.43" x2="698.55" y2="311.43" stroke="#c0c0c0" stroke-width="2" stroke-dasharray="1.3 4.264"/>
<line x1="491.55" y1="307.39" x2="698.55" y2="307.39" stroke="#c0c0c0" stroke-width="2" stroke-dasharray="1.3 4.264"/>
<line x1="491.55" y1="303.35" x2="698.55" y2="303.35" stroke="#c0c0c0" stroke-width="2" stroke-dasharray="1.3 4.264"/>
<line x1="532.11" y1="299.30" x2="532.11" y2="359.95" stroke="#d9d9d9" stroke-width="2"/>
<line x1="573.72" y1="299.30" x2="573.72" y2="359.95" stroke="#d9d9d9" stroke-width="2"/>
<line x1="615.33" y1="299.30" x2="615.33" y2="359.95" stroke="#d9d9d9" stroke-width="2"/>
<line x1="656.94" y1="299.30" x2="656.94" y2="359.95" stroke="#d9d9d9" stroke-width="2"/>
<line x1="490.50" y1="339.74" x2="698.55" y2="339.74" stroke="#dcdcdc" stroke-width="1.8"/>
<line x1="490.50" y1="319.52" x2="698.55" y2="319.52" stroke="#dcdcdc" stroke-width="1.8"/>
<rect x="490.50" y="299.30" width="208.05" height="60.65" fill="none" stroke="#262626" stroke-width="2.3"/>
<path d="M490.50 359.95v-3.4M490.50 299.30v3.4" stroke="#262626" stroke-width="2.3"/>
<path d="M532.11 359.95v-3.4M532.11 299.30v3.4" stroke="#262626" stroke-width="2.3"/>
<path d="M573.72 359.95v-3.4M573.72 299.30v3.4" stroke="#262626" stroke-width="2.3"/>
<path d="M615.33 359.95v-3.4M615.33 299.30v3.4" stroke="#262626" stroke-width="2.3"/>
<path d="M656.94 359.95v-3.4M656.94 299.30v3.4" stroke="#262626" stroke-width="2.3"/>
<path d="M698.55 359.95v-3.4M698.55 299.30v3.4" stroke="#262626" stroke-width="2.3"/>
<path d="M490.50 359.95h3.4M698.55 359.95h-3.4" stroke="#262626" stroke-width="2.3"/>
<path d="M490.50 339.74h3.4M698.55 339.74h-3.4" stroke="#262626" stroke-width="2.3"/>
<path d="M490.50 319.52h3.4M698.55 319.52h-3.4" stroke="#262626" stroke-width="2.3"/>
<path d="M490.50 299.31h3.4M698.55 299.31h-3.4" stroke="#262626" stroke-width="2.3"/>
<text x="481.30" y="365.80" font-size="17.8" text-anchor="end" textLength="11.0" lengthAdjust="spacingAndGlyphs">2</text>
<text x="481.30" y="345.59" font-size="17.8" text-anchor="end" textLength="26.4" lengthAdjust="spacingAndGlyphs">2.5</text>
<text x="481.30" y="325.37" font-size="17.8" text-anchor="end" textLength="11.0" lengthAdjust="spacingAndGlyphs">3</text>
<text x="481.30" y="305.16" font-size="17.8" text-anchor="end" textLength="26.4" lengthAdjust="spacingAndGlyphs">3.5</text>
<g fill="none" stroke="#0072bd" stroke-width="2.55"><circle cx="490.40" cy="335.80" r="3.75"/><circle cx="492.14" cy="343.85" r="3.75"/><circle cx="493.87" cy="335.80" r="3.75"/><circle cx="495.61" cy="343.85" r="3.75"/><circle cx="497.35" cy="339.82" r="3.75"/><circle cx="499.08" cy="339.82" r="3.75"/><circle cx="500.82" cy="335.80" r="3.75"/><circle cx="502.56" cy="331.77" r="3.75"/><circle cx="504.29" cy="315.67" r="3.75"/><circle cx="506.03" cy="307.62" r="3.75"/><circle cx="507.76" cy="311.65" r="3.75"/><circle cx="509.50" cy="307.62" r="3.75"/><circle cx="511.24" cy="307.62" r="3.75"/><circle cx="512.97" cy="323.73" r="3.75"/><circle cx="514.71" cy="335.80" r="3.75"/><circle cx="516.45" cy="343.85" r="3.75"/><circle cx="518.18" cy="351.90" r="3.75"/><circle cx="519.92" cy="347.88" r="3.75"/><circle cx="521.66" cy="351.90" r="3.75"/><circle cx="523.39" cy="347.88" r="3.75"/><circle cx="525.13" cy="351.90" r="3.75"/><circle cx="526.87" cy="347.88" r="3.75"/><circle cx="528.60" cy="347.88" r="3.75"/><circle cx="530.34" cy="347.88" r="3.75"/><circle cx="532.08" cy="347.88" r="3.75"/><circle cx="533.81" cy="347.88" r="3.75"/><circle cx="535.55" cy="347.88" r="3.75"/><circle cx="537.29" cy="347.88" r="3.75"/><circle cx="539.02" cy="343.85" r="3.75"/><circle cx="540.76" cy="343.85" r="3.75"/><circle cx="542.50" cy="347.88" r="3.75"/><circle cx="544.23" cy="351.90" r="3.75"/><circle cx="545.97" cy="347.88" r="3.75"/><circle cx="547.70" cy="351.90" r="3.75"/><circle cx="549.44" cy="347.88" r="3.75"/><circle cx="551.18" cy="351.90" r="3.75"/><circle cx="552.91" cy="347.88" r="3.75"/><circle cx="554.65" cy="351.90" r="3.75"/><circle cx="556.39" cy="343.85" r="3.75"/><circle cx="558.12" cy="339.82" r="3.75"/><circle cx="559.86" cy="347.88" r="3.75"/><circle cx="561.60" cy="347.88" r="3.75"/><circle cx="563.33" cy="347.88" r="3.75"/><circle cx="565.07" cy="347.88" r="3.75"/><circle cx="566.81" cy="347.88" r="3.75"/><circle cx="568.54" cy="347.88" r="3.75"/><circle cx="570.28" cy="351.90" r="3.75"/><circle cx="572.02" cy="359.95" r="3.75"/><circle cx="573.75" cy="359.95" r="3.75"/><circle cx="575.49" cy="359.95" r="3.75"/><circle cx="577.23" cy="359.95" r="3.75"/><circle cx="578.96" cy="355.93" r="3.75"/><circle cx="580.70" cy="355.93" r="3.75"/><circle cx="582.43" cy="351.90" r="3.75"/><circle cx="584.17" cy="355.93" r="3.75"/><circle cx="585.91" cy="347.88" r="3.75"/><circle cx="587.64" cy="351.90" r="3.75"/><circle cx="589.38" cy="347.88" r="3.75"/><circle cx="591.12" cy="343.85" r="3.75"/><circle cx="592.85" cy="347.88" r="3.75"/><circle cx="594.59" cy="343.85" r="3.75"/><circle cx="596.33" cy="339.82" r="3.75"/><circle cx="598.06" cy="339.82" r="3.75"/><circle cx="599.80" cy="335.80" r="3.75"/><circle cx="601.54" cy="335.80" r="3.75"/><circle cx="603.27" cy="331.77" r="3.75"/><circle cx="605.01" cy="327.75" r="3.75"/><circle cx="606.75" cy="327.75" r="3.75"/><circle cx="608.48" cy="315.67" r="3.75"/><circle cx="610.22" cy="311.65" r="3.75"/><circle cx="611.95" cy="315.67" r="3.75"/><circle cx="613.69" cy="319.70" r="3.75"/><circle cx="615.43" cy="315.67" r="3.75"/><circle cx="617.16" cy="315.67" r="3.75"/><circle cx="618.90" cy="319.70" r="3.75"/><circle cx="620.64" cy="315.67" r="3.75"/><circle cx="622.37" cy="319.70" r="3.75"/><circle cx="624.11" cy="319.70" r="3.75"/><circle cx="625.85" cy="319.70" r="3.75"/><circle cx="627.58" cy="311.65" r="3.75"/><circle cx="629.32" cy="307.62" r="3.75"/><circle cx="631.06" cy="303.60" r="3.75"/><circle cx="632.79" cy="307.62" r="3.75"/><circle cx="634.53" cy="307.62" r="3.75"/><circle cx="636.27" cy="303.60" r="3.75"/><circle cx="638.00" cy="303.60" r="3.75"/><circle cx="639.74" cy="303.60" r="3.75"/><circle cx="641.48" cy="303.60" r="3.75"/><circle cx="643.21" cy="299.57" r="3.75"/><circle cx="644.95" cy="303.60" r="3.75"/><circle cx="646.68" cy="303.60" r="3.75"/><circle cx="648.42" cy="303.60" r="3.75"/><circle cx="650.16" cy="303.60" r="3.75"/><circle cx="651.89" cy="303.60" r="3.75"/><circle cx="653.63" cy="303.60" r="3.75"/><circle cx="655.37" cy="303.60" r="3.75"/><circle cx="657.10" cy="303.60" r="3.75"/></g>
</g>
<g>
<line x1="148.25" y1="482.58" x2="355.25" y2="482.58" stroke="#c0c0c0" stroke-width="2" stroke-dasharray="1.3 4.264"/>
<line x1="148.25" y1="477.51" x2="355.25" y2="477.51" stroke="#c0c0c0" stroke-width="2" stroke-dasharray="1.3 4.264"/>
<line x1="148.25" y1="472.44" x2="355.25" y2="472.44" stroke="#c0c0c0" stroke-width="2" stroke-dasharray="1.3 4.264"/>
<line x1="148.25" y1="467.37" x2="355.25" y2="467.37" stroke="#c0c0c0" stroke-width="2" stroke-dasharray="1.3 4.264"/>
<line x1="148.25" y1="457.23" x2="355.25" y2="457.23" stroke="#c0c0c0" stroke-width="2" stroke-dasharray="1.3 4.264"/>
<line x1="148.25" y1="452.16" x2="355.25" y2="452.16" stroke="#c0c0c0" stroke-width="2" stroke-dasharray="1.3 4.264"/>
<line x1="148.25" y1="447.09" x2="355.25" y2="447.09" stroke="#c0c0c0" stroke-width="2" stroke-dasharray="1.3 4.264"/>
<line x1="148.25" y1="442.02" x2="355.25" y2="442.02" stroke="#c0c0c0" stroke-width="2" stroke-dasharray="1.3 4.264"/>
<line x1="148.25" y1="431.88" x2="355.25" y2="431.88" stroke="#c0c0c0" stroke-width="2" stroke-dasharray="1.3 4.264"/>
<line x1="188.81" y1="427.10" x2="188.81" y2="487.65" stroke="#d9d9d9" stroke-width="2"/>
<line x1="230.42" y1="427.10" x2="230.42" y2="487.65" stroke="#d9d9d9" stroke-width="2"/>
<line x1="272.03" y1="427.10" x2="272.03" y2="487.65" stroke="#d9d9d9" stroke-width="2"/>
<line x1="313.64" y1="427.10" x2="313.64" y2="487.65" stroke="#d9d9d9" stroke-width="2"/>
<line x1="147.20" y1="462.30" x2="355.25" y2="462.30" stroke="#dcdcdc" stroke-width="1.8"/>
<line x1="147.20" y1="436.95" x2="355.25" y2="436.95" stroke="#dcdcdc" stroke-width="1.8"/>
<rect x="147.20" y="427.10" width="208.05" height="60.55" fill="none" stroke="#262626" stroke-width="2.3"/>
<path d="M147.20 487.65v-3.4M147.20 427.10v3.4" stroke="#262626" stroke-width="2.3"/>
<path d="M188.81 487.65v-3.4M188.81 427.10v3.4" stroke="#262626" stroke-width="2.3"/>
<path d="M230.42 487.65v-3.4M230.42 427.10v3.4" stroke="#262626" stroke-width="2.3"/>
<path d="M272.03 487.65v-3.4M272.03 427.10v3.4" stroke="#262626" stroke-width="2.3"/>
<path d="M313.64 487.65v-3.4M313.64 427.10v3.4" stroke="#262626" stroke-width="2.3"/>
<path d="M355.25 487.65v-3.4M355.25 427.10v3.4" stroke="#262626" stroke-width="2.3"/>
<path d="M147.20 487.65h3.4M355.25 487.65h-3.4" stroke="#262626" stroke-width="2.3"/>
<path d="M147.20 462.30h3.4M355.25 462.30h-3.4" stroke="#262626" stroke-width="2.3"/>
<path d="M147.20 436.95h3.4M355.25 436.95h-3.4" stroke="#262626" stroke-width="2.3"/>
<text x="138.60" y="493.50" font-size="17.8" text-anchor="end" textLength="11.0" lengthAdjust="spacingAndGlyphs">0</text>
<text x="138.60" y="468.15" font-size="17.8" text-anchor="end" textLength="33.0" lengthAdjust="spacingAndGlyphs">100</text>
<text x="138.60" y="442.80" font-size="17.8" text-anchor="end" textLength="33.0" lengthAdjust="spacingAndGlyphs">200</text>
<g fill="none" stroke="#0072bd" stroke-width="2.55"><circle cx="147.10" cy="464.05" r="3.75"/><circle cx="148.84" cy="464.25" r="3.75"/><circle cx="150.57" cy="464.87" r="3.75"/><circle cx="152.31" cy="465.28" r="3.75"/><circle cx="154.05" cy="448.82" r="3.75"/><circle cx="155.78" cy="427.20" r="3.75"/><circle cx="157.52" cy="443.88" r="3.75"/><circle cx="159.26" cy="458.59" r="3.75"/><circle cx="160.99" cy="454.99" r="3.75"/><circle cx="162.73" cy="451.90" r="3.75"/><circle cx="164.47" cy="449.33" r="3.75"/><circle cx="166.20" cy="448.82" r="3.75"/><circle cx="167.94" cy="452.93" r="3.75"/><circle cx="169.67" cy="457.05" r="3.75"/><circle cx="171.41" cy="461.16" r="3.75"/><circle cx="173.15" cy="457.05" r="3.75"/><circle cx="174.88" cy="450.87" r="3.75"/><circle cx="176.62" cy="451.90" r="3.75"/><circle cx="178.36" cy="445.73" r="3.75"/><circle cx="180.09" cy="444.70" r="3.75"/><circle cx="181.83" cy="440.07" r="3.75"/><circle cx="183.57" cy="441.61" r="3.75"/><circle cx="185.30" cy="436.47" r="3.75"/><circle cx="187.04" cy="434.92" r="3.75"/><circle cx="188.78" cy="435.44" r="3.75"/><circle cx="190.51" cy="438.01" r="3.75"/><circle cx="192.25" cy="450.87" r="3.75"/><circle cx="193.99" cy="456.38" r="3.75"/><circle cx="195.72" cy="460.24" r="3.75"/><circle cx="197.46" cy="454.06" r="3.75"/><circle cx="199.19" cy="457.15" r="3.75"/><circle cx="200.93" cy="450.98" r="3.75"/><circle cx="202.67" cy="448.30" r="3.75"/><circle cx="204.40" cy="454.06" r="3.75"/><circle cx="206.14" cy="457.15" r="3.75"/><circle cx="207.88" cy="452.52" r="3.75"/><circle cx="209.61" cy="456.38" r="3.75"/><circle cx="211.35" cy="450.98" r="3.75"/><circle cx="213.09" cy="455.61" r="3.75"/><circle cx="214.82" cy="457.15" r="3.75"/><circle cx="216.56" cy="452.52" r="3.75"/><circle cx="218.30" cy="456.38" r="3.75"/><circle cx="220.03" cy="449.43" r="3.75"/><circle cx="221.77" cy="454.06" r="3.75"/><circle cx="223.51" cy="457.92" r="3.75"/><circle cx="225.24" cy="452.52" r="3.75"/><circle cx="226.98" cy="447.79" r="3.75"/><circle cx="228.72" cy="444.70" r="3.75"/><circle cx="230.45" cy="443.88" r="3.75"/><circle cx="232.19" cy="444.70" r="3.75"/><circle cx="233.93" cy="443.46" r="3.75"/><circle cx="235.66" cy="443.16" r="3.75"/><circle cx="237.40" cy="449.84" r="3.75"/><circle cx="239.13" cy="454.99" r="3.75"/><circle cx="240.87" cy="456.02" r="3.75"/><circle cx="242.61" cy="453.96" r="3.75"/><circle cx="244.34" cy="450.87" r="3.75"/><circle cx="246.08" cy="448.82" r="3.75"/><circle cx="247.82" cy="445.73" r="3.75"/><circle cx="249.55" cy="443.67" r="3.75"/><circle cx="251.29" cy="443.02" r="3.75"/><circle cx="253.03" cy="440.86" r="3.75"/><circle cx="254.76" cy="440.62" r="3.75"/><circle cx="256.50" cy="443.02" r="3.75"/><circle cx="258.24" cy="446.02" r="3.75"/><circle cx="259.97" cy="453.83" r="3.75"/><circle cx="261.71" cy="463.44" r="3.75"/><circle cx="263.45" cy="468.24" r="3.75"/><circle cx="265.18" cy="472.45" r="3.75"/><circle cx="266.92" cy="476.05" r="3.75"/><circle cx="268.65" cy="479.65" r="3.75"/><circle cx="270.39" cy="476.65" r="3.75"/><circle cx="272.13" cy="473.05" r="3.75"/><circle cx="273.86" cy="472.45" r="3.75"/><circle cx="275.60" cy="475.45" r="3.75"/><circle cx="277.34" cy="479.05" r="3.75"/><circle cx="279.07" cy="480.86" r="3.75"/><circle cx="280.81" cy="476.65" r="3.75"/><circle cx="282.55" cy="474.25" r="3.75"/><circle cx="284.28" cy="473.65" r="3.75"/><circle cx="286.02" cy="475.45" r="3.75"/><circle cx="287.76" cy="477.85" r="3.75"/><circle cx="289.49" cy="481.46" r="3.75"/><circle cx="291.23" cy="484.46" r="3.75"/><circle cx="292.97" cy="486.62" r="3.75"/><circle cx="294.70" cy="486.86" r="3.75"/><circle cx="296.44" cy="486.86" r="3.75"/><circle cx="298.18" cy="486.86" r="3.75"/><circle cx="299.91" cy="486.86" r="3.75"/><circle cx="301.65" cy="486.86" r="3.75"/><circle cx="303.38" cy="486.86" r="3.75"/><circle cx="305.12" cy="486.86" r="3.75"/><circle cx="306.86" cy="486.62" r="3.75"/><circle cx="308.59" cy="485.66" r="3.75"/><circle cx="310.33" cy="483.86" r="3.75"/><circle cx="312.07" cy="482.06" r="3.75"/><circle cx="313.80" cy="480.50" r="3.75"/></g>
</g>
<g>
<line x1="491.55" y1="476.64" x2="698.55" y2="476.64" stroke="#c0c0c0" stroke-width="2" stroke-dasharray="1.3 4.264"/>
<line x1="491.55" y1="465.63" x2="698.55" y2="465.63" stroke="#c0c0c0" stroke-width="2" stroke-dasharray="1.3 4.264"/>
<line x1="491.55" y1="454.62" x2="698.55" y2="454.62" stroke="#c0c0c0" stroke-width="2" stroke-dasharray="1.3 4.264"/>
<line x1="491.55" y1="443.61" x2="698.55" y2="443.61" stroke="#c0c0c0" stroke-width="2" stroke-dasharray="1.3 4.264"/>
<line x1="532.11" y1="427.10" x2="532.11" y2="487.65" stroke="#d9d9d9" stroke-width="2"/>
<line x1="573.72" y1="427.10" x2="573.72" y2="487.65" stroke="#d9d9d9" stroke-width="2"/>
<line x1="615.33" y1="427.10" x2="615.33" y2="487.65" stroke="#d9d9d9" stroke-width="2"/>
<line x1="656.94" y1="427.10" x2="656.94" y2="487.65" stroke="#d9d9d9" stroke-width="2"/>
<line x1="490.50" y1="432.60" x2="698.55" y2="432.60" stroke="#dcdcdc" stroke-width="1.8"/>
<rect x="490.50" y="427.10" width="208.05" height="60.55" fill="none" stroke="#262626" stroke-width="2.3"/>
<path d="M490.50 487.65v-3.4M490.50 427.10v3.4" stroke="#262626" stroke-width="2.3"/>
<path d="M532.11 487.65v-3.4M532.11 427.10v3.4" stroke="#262626" stroke-width="2.3"/>
<path d="M573.72 487.65v-3.4M573.72 427.10v3.4" stroke="#262626" stroke-width="2.3"/>
<path d="M615.33 487.65v-3.4M615.33 427.10v3.4" stroke="#262626" stroke-width="2.3"/>
<path d="M656.94 487.65v-3.4M656.94 427.10v3.4" stroke="#262626" stroke-width="2.3"/>
<path d="M698.55 487.65v-3.4M698.55 427.10v3.4" stroke="#262626" stroke-width="2.3"/>
<path d="M490.50 487.65h3.4M698.55 487.65h-3.4" stroke="#262626" stroke-width="2.3"/>
<path d="M490.50 432.60h3.4M698.55 432.60h-3.4" stroke="#262626" stroke-width="2.3"/>
<text x="481.30" y="493.50" font-size="17.8" text-anchor="end" textLength="11.0" lengthAdjust="spacingAndGlyphs">0</text>
<text x="481.30" y="438.45" font-size="17.8" text-anchor="end" textLength="33.0" lengthAdjust="spacingAndGlyphs">500</text>
<g fill="none" stroke="#0072bd" stroke-width="2.55"><circle cx="490.40" cy="487.15" r="3.75"/><circle cx="492.14" cy="487.15" r="3.75"/><circle cx="493.87" cy="487.15" r="3.75"/><circle cx="495.61" cy="487.15" r="3.75"/><circle cx="497.35" cy="482.48" r="3.75"/><circle cx="499.08" cy="478.94" r="3.75"/><circle cx="500.82" cy="475.41" r="3.75"/><circle cx="502.56" cy="458.43" r="3.75"/><circle cx="504.29" cy="438.63" r="3.75"/><circle cx="506.03" cy="427.03" r="3.75"/><circle cx="507.76" cy="437.22" r="3.75"/><circle cx="509.50" cy="436.51" r="3.75"/><circle cx="511.24" cy="442.87" r="3.75"/><circle cx="512.97" cy="447.12" r="3.75"/><circle cx="514.71" cy="451.36" r="3.75"/><circle cx="516.45" cy="457.02" r="3.75"/><circle cx="518.18" cy="462.68" r="3.75"/><circle cx="519.92" cy="467.63" r="3.75"/><circle cx="521.66" cy="472.58" r="3.75"/><circle cx="523.39" cy="478.23" r="3.75"/><circle cx="525.13" cy="483.89" r="3.75"/><circle cx="526.87" cy="487.43" r="3.75"/><circle cx="528.60" cy="487.43" r="3.75"/><circle cx="530.34" cy="487.43" r="3.75"/><circle cx="532.08" cy="487.43" r="3.75"/><circle cx="533.81" cy="487.43" r="3.75"/><circle cx="535.55" cy="487.43" r="3.75"/><circle cx="537.29" cy="487.43" r="3.75"/><circle cx="539.02" cy="485.31" r="3.75"/><circle cx="540.76" cy="480.36" r="3.75"/><circle cx="542.50" cy="473.99" r="3.75"/><circle cx="544.23" cy="461.97" r="3.75"/><circle cx="545.97" cy="457.73" r="3.75"/><circle cx="547.70" cy="453.48" r="3.75"/><circle cx="549.44" cy="449.95" r="3.75"/><circle cx="551.18" cy="445.70" r="3.75"/><circle cx="552.91" cy="442.17" r="3.75"/><circle cx="554.65" cy="454.19" r="3.75"/><circle cx="556.39" cy="464.09" r="3.75"/><circle cx="558.12" cy="475.41" r="3.75"/><circle cx="559.86" cy="477.53" r="3.75"/><circle cx="561.60" cy="479.65" r="3.75"/><circle cx="563.33" cy="481.35" r="3.75"/><circle cx="565.07" cy="483.19" r="3.75"/><circle cx="566.81" cy="485.02" r="3.75"/><circle cx="568.54" cy="486.44" r="3.75"/><circle cx="570.28" cy="487.43" r="3.75"/><circle cx="572.02" cy="487.43" r="3.75"/><circle cx="573.75" cy="487.43" r="3.75"/><circle cx="575.49" cy="487.43" r="3.75"/><circle cx="577.23" cy="487.43" r="3.75"/><circle cx="578.96" cy="486.72" r="3.75"/><circle cx="580.70" cy="485.31" r="3.75"/><circle cx="582.43" cy="483.89" r="3.75"/><circle cx="584.17" cy="482.48" r="3.75"/><circle cx="585.91" cy="474.70" r="3.75"/><circle cx="587.64" cy="463.38" r="3.75"/><circle cx="589.38" cy="453.48" r="3.75"/><circle cx="591.12" cy="452.49" r="3.75"/><circle cx="592.85" cy="452.07" r="3.75"/><circle cx="594.59" cy="452.07" r="3.75"/><circle cx="596.33" cy="457.02" r="3.75"/><circle cx="598.06" cy="461.97" r="3.75"/><circle cx="599.80" cy="466.92" r="3.75"/><circle cx="601.54" cy="470.46" r="3.75"/><circle cx="603.27" cy="473.99" r="3.75"/><circle cx="605.01" cy="477.53" r="3.75"/><circle cx="606.75" cy="480.78" r="3.75"/><circle cx="608.48" cy="484.60" r="3.75"/><circle cx="610.22" cy="487.43" r="3.75"/><circle cx="611.95" cy="487.43" r="3.75"/><circle cx="613.69" cy="487.43" r="3.75"/><circle cx="615.43" cy="487.43" r="3.75"/><circle cx="617.16" cy="487.43" r="3.75"/><circle cx="618.90" cy="487.43" r="3.75"/><circle cx="620.64" cy="487.43" r="3.75"/><circle cx="622.37" cy="487.43" r="3.75"/><circle cx="624.11" cy="483.89" r="3.75"/><circle cx="625.85" cy="481.06" r="3.75"/><circle cx="627.58" cy="465.50" r="3.75"/><circle cx="629.32" cy="449.24" r="3.75"/><circle cx="631.06" cy="433.68" r="3.75"/><circle cx="632.79" cy="431.56" r="3.75"/><circle cx="634.53" cy="428.73" r="3.75"/><circle cx="636.27" cy="426.61" r="3.75"/><circle cx="638.00" cy="430.14" r="3.75"/><circle cx="639.74" cy="435.80" r="3.75"/><circle cx="641.48" cy="440.75" r="3.75"/><circle cx="643.21" cy="447.82" r="3.75"/><circle cx="644.95" cy="453.48" r="3.75"/><circle cx="646.68" cy="459.14" r="3.75"/><circle cx="648.42" cy="467.63" r="3.75"/><circle cx="650.16" cy="477.53" r="3.75"/><circle cx="651.89" cy="487.15" r="3.75"/><circle cx="653.63" cy="487.15" r="3.75"/><circle cx="655.37" cy="487.15" r="3.75"/><circle cx="657.10" cy="487.15" r="3.75"/></g>
</g>
<text transform="translate(84.3 73.7) rotate(-90)" font-size="21.8" text-anchor="middle" textLength="101.0" lengthAdjust="spacingAndGlyphs"><tspan>PRESSURE</tspan></text>
<text transform="translate(86.2 201.8) rotate(-90)" font-size="21.8" text-anchor="middle" textLength="89.5" lengthAdjust="spacingAndGlyphs"><tspan>AIR</tspan><tspan dy="9.6" font-size="17.4">T</tspan><tspan dy="-9.6">EMP</tspan></text>
<text transform="translate(84.3 329.8) rotate(-90)" font-size="21.8" text-anchor="middle" textLength="106.0" lengthAdjust="spacingAndGlyphs"><tspan>MIXDEPTH</tspan></text>
<text transform="translate(86.0 457.1) rotate(-90)" font-size="21.8" text-anchor="middle" textLength="91.0" lengthAdjust="spacingAndGlyphs"><tspan>TERR</tspan><tspan dy="9.6" font-size="17.4">M</tspan><tspan dy="-9.6">SL</tspan></text>
<text transform="translate(438.2 73.9) rotate(-90)" font-size="21.8" text-anchor="middle" textLength="66.0" lengthAdjust="spacingAndGlyphs"><tspan>THETA</tspan></text>
<text transform="translate(446.2 202.0) rotate(-90)" font-size="21.8" text-anchor="middle" textLength="96.5" lengthAdjust="spacingAndGlyphs"><tspan>RAINFALL</tspan></text>
<text transform="translate(445.8 329.2) rotate(-90)" font-size="21.8" text-anchor="middle" textLength="110.0" lengthAdjust="spacingAndGlyphs"><tspan>H2OMIXRA</tspan></text>
<text transform="translate(399.8 456.5) rotate(-90)" font-size="21.8" text-anchor="middle" textLength="93.5" lengthAdjust="spacingAndGlyphs"><tspan>SUN</tspan><tspan dy="9.6" font-size="17.4">F</tspan><tspan dy="-9.6">LUX</tspan></text>
<text x="251.7" y="31.7" font-size="20.6" font-weight="bold" text-anchor="middle" textLength="178" lengthAdjust="spacingAndGlyphs" style="fill:#000;stroke:#000">Figure 3 medium</text>
<text x="251.2" y="575.3" font-size="20.8" text-anchor="middle" textLength="48.2" lengthAdjust="spacingAndGlyphs">Time</text>
<text transform="translate(138.30 522.50) rotate(-45)" x="0" y="6.5" font-size="17.8" text-anchor="middle" textLength="52" lengthAdjust="spacingAndGlyphs">04/10</text>
<text transform="translate(179.91 522.50) rotate(-45)" x="0" y="6.5" font-size="17.8" text-anchor="middle" textLength="52" lengthAdjust="spacingAndGlyphs">04/11</text>
<text transform="translate(221.52 522.50) rotate(-45)" x="0" y="6.5" font-size="17.8" text-anchor="middle" textLength="52" lengthAdjust="spacingAndGlyphs">04/12</text>
<text transform="translate(263.13 522.50) rotate(-45)" x="0" y="6.5" font-size="17.8" text-anchor="middle" textLength="52" lengthAdjust="spacingAndGlyphs">04/13</text>
<text transform="translate(304.74 522.50) rotate(-45)" x="0" y="6.5" font-size="17.8" text-anchor="middle" textLength="52" lengthAdjust="spacingAndGlyphs">04/14</text>
<text transform="translate(346.35 522.50) rotate(-45)" x="0" y="6.5" font-size="17.8" text-anchor="middle" textLength="52" lengthAdjust="spacingAndGlyphs">04/15</text>
<text x="594.5" y="575.3" font-size="20.8" text-anchor="middle" textLength="48.2" lengthAdjust="spacingAndGlyphs">Time</text>
<text transform="translate(481.60 522.50) rotate(-45)" x="0" y="6.5" font-size="17.8" text-anchor="middle" textLength="52" lengthAdjust="spacingAndGlyphs">04/10</text>
<text transform="translate(523.21 522.50) rotate(-45)" x="0" y="6.5" font-size="17.8" text-anchor="middle" textLength="52" lengthAdjust="spacingAndGlyphs">04/11</text>
<text transform="translate(564.82 522.50) rotate(-45)" x="0" y="6.5" font-size="17.8" text-anchor="middle" textLength="52" lengthAdjust="spacingAndGlyphs">04/12</text>
<text transform="translate(606.43 522.50) rotate(-45)" x="0" y="6.5" font-size="17.8" text-anchor="middle" textLength="52" lengthAdjust="spacingAndGlyphs">04/13</text>
<text transform="translate(648.04 522.50) rotate(-45)" x="0" y="6.5" font-size="17.8" text-anchor="middle" textLength="52" lengthAdjust="spacingAndGlyphs">04/14</text>
<text transform="translate(689.65 522.50) rotate(-45)" x="0" y="6.5" font-size="17.8" text-anchor="middle" textLength="52" lengthAdjust="spacingAndGlyphs">04/15</text>
</svg></body></html>
